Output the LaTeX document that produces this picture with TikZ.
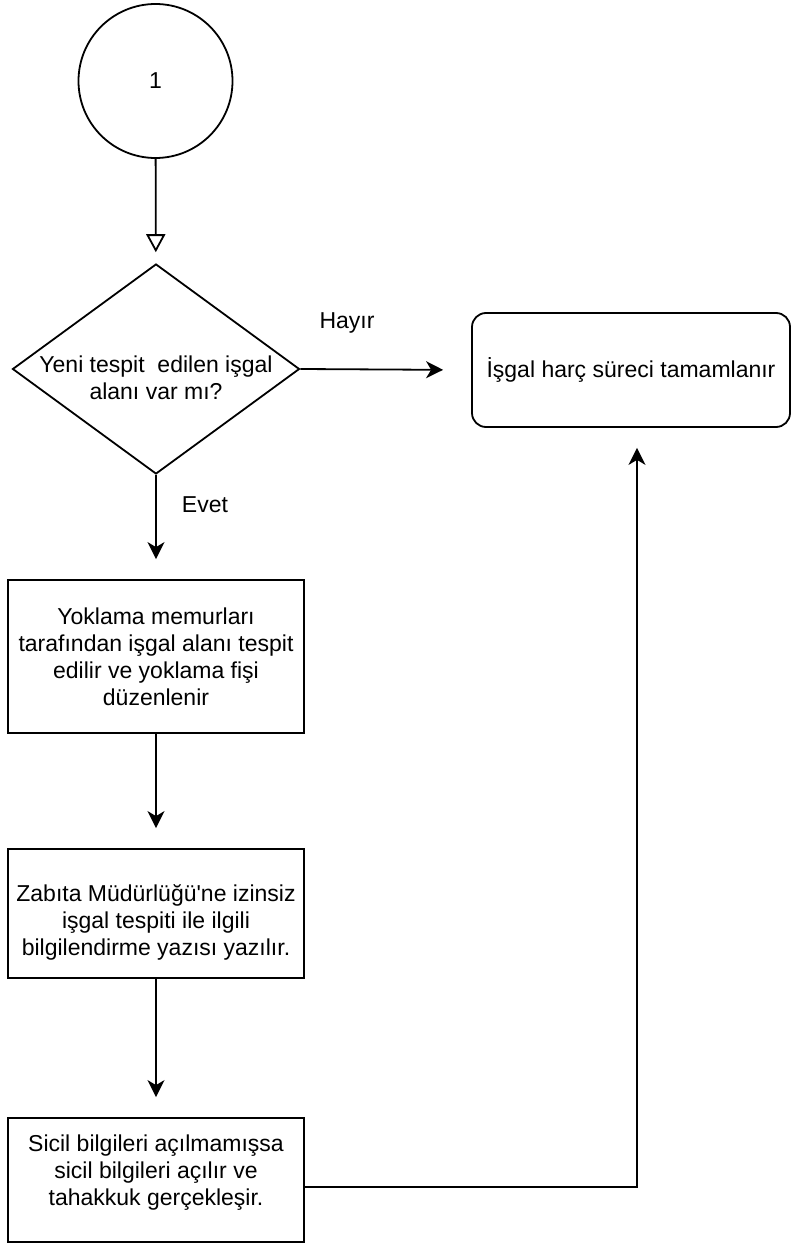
\documentclass[tikz,border=0pt]{standalone}
\usepackage{fontspec}
\setmainfont{Liberation Sans}
\usetikzlibrary{shapes.geometric,arrows.meta}

\tikzset{
    flowline/.style={line width=1.8pt},
    flowarrow/.style={flowline, -{Stealth[length=17pt,width=17pt,inset=5pt]}, shorten >=20pt},
    stepbox/.style={draw, line width=1.8pt, minimum width=296pt, inner sep=0pt, align=center},
    txt/.style={font=\fontsize{23}{27}\selectfont, align=center}
}

\begin{document}
\begin{tikzpicture}[x=1pt, y=-1pt, every node/.append style={txt}]

    \useasboundingbox (0,0) rectangle (791,1257);

    \node[draw, circle, line width=1.8pt, minimum size=154pt, inner sep=0pt] (start) at (155.5,81) {1};

    \node[draw, diamond, line width=1.8pt, minimum width=287pt, minimum height=210pt, inner sep=0pt] (query) at (156,369) {};
    \node (querytxt) at (156,378) {Yeni tespit\ \ edilen işgal\\alanı var mı?};

    \node[draw, rounded corners=14pt, line width=1.8pt, minimum width=318pt, minimum height=114pt, inner sep=0pt] (done) at (631,370) {İşgal harç süreci tamamlanır};

    \node[stepbox, minimum height=153pt] (inspect) at (156,656.5) {Yoklama memurları\\tarafından işgal alanı tespit\\edilir ve yoklama fişi\\düzenlenir};
    \node[stepbox, minimum height=129pt] (notify) at (156,913.5) {};
    \node (notifytxt) at (156,922) {Zabıta Müdürlüğü\textquotesingle ne izinsiz\\işgal tespiti ile ilgili\\bilgilendirme yazısı yazılır.};
    \node[stepbox, minimum height=124pt] (record) at (156,1180) {};
    \node (recordtxt) at (156,1173) {Sicil bilgileri açılmamışsa\\sicil bilgileri açılır ve\\tahakkuk gerçekleşir.};

    \coordinate (turn) at (637,1187);

    % connectors
    \draw[flowline, -{Triangle[open,length=18pt,width=19pt]}, shorten >=11pt] (start) -- (query);
    \draw[flowarrow, shorten >=28pt] (query.east) -- (done.west);
    \node (no) at (347,323) {Hayır};
    \draw[flowarrow] (query.south) -- (inspect.north);
    \node (yes) at (205,505) {Evet};
    \draw[flowarrow] (inspect) -- (notify);
    \draw[flowarrow] (notify) -- (record);
    \draw[flowarrow] (record.east |- turn) -- (turn) -- (turn |- done.south);

\end{tikzpicture}
\end{document}
